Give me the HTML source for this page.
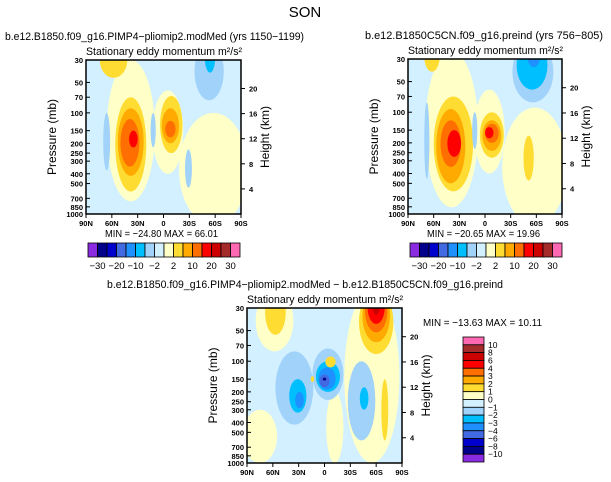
<!DOCTYPE html>
<html><head><meta charset="utf-8">
<style>
body{margin:0;background:#fff;}
svg{display:block;font-family:"Liberation Sans",sans-serif;}
</style></head>
<body>
<svg id="fig" width="611" height="482" viewBox="0 0 611 482" xmlns="http://www.w3.org/2000/svg">
<text x="305" y="17" font-size="15" text-anchor="middle">SON</text>
<g id="root"></g>
</svg>
<script>
// ---- data ----
const colors = ["#8a2be2","#00008b","#0000cd","#4169e1","#1e90ff","#00bfff","#a0d2fa","#d2f0ff","#ffffc8","#ffdc32","#ffaa00","#ff6e00","#ff0000","#cd0000","#a52a2a","#ff69b4"];
const pTicks = [30,50,70,100,150,200,250,300,400,500,700,850,1000];
const zTicks = [4,8,12,16,20];
const latTicks = [90,60,30,0,-30,-60,-90];
const latLabels = ["90N","60N","30N","0","30S","60S","90S"];
const cbLabelsAbs = ["-30","-20","-10","-2","2","10","20","30"];
const cbLabelsDiff = ["-10","-8","-6","-4","-3","-2","-1","0","1","2","3","4","6","8","10"];
// blobs: lat, dlat, pTop, pBot, level
const p1Lat  = [38,-5,-58,58,38,38,39,35,-9,-8,-8,66,-53,-54,-29,12];
const p1DLat = [28,18,40,16,18,15,11,5,13,10,6,4,17,6,4,3];
const p1Top  = [30,60,100,20,70,90,115,150,68,90,120,100,20,20,230,100];
const p1Bot  = [750,400,1300,45,600,420,340,220,250,200,175,370,75,40,550,220];
const p1Lev  = [8,8,8,9,9,10,11,12,9,10,11,6,6,5,6,6];
const p2Lat  = [39,-5,-58,62,37,40,40,36,-8,-8,-8,-5,-56,-55,-57,68,-51,12];
const p2DLat = [31,18,38,9,23,17,12,8,14,11,8,5,24,18,8,3,6,3];
const p2Top  = [25,60,90,20,70,93,120,150,100,120,130,140,20,20,20,80,170,100];
const p2Bot  = [860,400,1300,40,600,500,345,275,280,240,200,180,80,60,36,450,470,230];
const p2Lev  = [8,8,8,9,9,10,11,12,9,10,11,12,6,5,4,6,9,6];
const p3Lat  = [-55,-12,75,58,57,-60,-60,-60,-60,-60,35,31,29,-4,-4,-3,0,0,-43,-46,-7,14,-70];
const p3DLat = [32,10,20,22,12,20,16,13,10,5,22,10,5,18,14,10,6,2,16,5,6,2,4];
const p3Top  = [20,200,300,20,20,20,20,20,20,20,80,150,200,75,100,115,135,145,100,180,90,140,150];
const p3Bot  = [1000,1000,1000,80,55,85,65,52,43,35,420,320,290,240,200,190,180,155,600,300,115,160,600];
const p3Lev  = [8,8,8,8,9,9,10,11,12,13,6,5,4,6,5,4,3,1,6,5,9,9,9];
const panels = [
 {x:86,y:60,w:155,h:154,lat:p1Lat,dl:p1DLat,pt:p1Top,pb:p1Bot,lv:p1Lev,title:"b.e12.B1850.f09_g16.PIMP4\u2212pliomip2.modMed (yrs 1150\u22121199)",tx1:5,tx2:304,minmax:"MIN = \u221224.80   MAX =   66.01"},
 {x:408,y:59,w:154,h:155,lat:p2Lat,dl:p2DLat,pt:p2Top,pb:p2Bot,lv:p2Lev,title:"b.e12.B1850C5CN.f09_g16.preind (yrs 756\u2212805)",tx1:365,tx2:603,minmax:"MIN = \u221220.65   MAX =   19.96"},
 {x:247,y:308,w:155,h:155,lat:p3Lat,dl:p3DLat,pt:p3Top,pb:p3Bot,lv:p3Lev,title:"b.e12.B1850.f09_g16.PIMP4\u2212pliomip2.modMed \u2212 b.e12.B1850C5CN.f09_g16.preind",tx1:107,tx2:503,minmax:null}
];
const NS="http://www.w3.org/2000/svg";
const root=document.getElementById('root');
function mk(tag,attrs,parent){const e=document.createElementNS(NS,tag);for(const k in attrs)e.setAttribute(k,attrs[k]);(parent||root).appendChild(e);return e;}
function txt(s,attrs,parent){const e=mk('text',attrs,parent);e.textContent=s;return e;}
panels.forEach((P,i)=>{
 const xS=lat=>P.x+(90-lat)/180*P.w;
 const yS=p=>P.y+Math.log(p/30)/Math.log(1000/30)*P.h;
 const g=mk('g',{});
 
 
 const t=txt(P.title,{x:P.tx1,y:P.y-20,'font-size':11,textLength:P.tx2-P.tx1,lengthAdjust:'spacingAndGlyphs'},g);
 
 
 const st=txt("Stationary eddy momentum  m\u00b2/s\u00b2",{x:P.x,y:P.y-5,'font-size':11,textLength:P.w+1,lengthAdjust:'spacingAndGlyphs'},g);
 
 
 const cp=mk('clipPath',{id:'cp'+i},g);
 mk('rect',{x:P.x,y:P.y,width:P.w,height:P.h},cp);
 const fg=mk('g',{'clip-path':'url(#cp'+i+')'},g);
 
 
 mk('rect',{x:P.x,y:P.y,width:P.w,height:P.h,fill:colors[7]},fg);
 for(let k=0;k<P.lat.length;k++){
  const y1=yS(P.pt[k]),y2=yS(P.pb[k]);
  const el=mk('ellipse',{cx:xS(P.lat[k]),cy:(y1+y2)/2,rx:P.dl[k]/180*P.w,ry:(y2-y1)/2,fill:colors[P.lv[k]]},fg);
  
  
 }
 mk('rect',{x:P.x,y:P.y,width:P.w,height:P.h,fill:'none',stroke:'#000','stroke-width':1.5},g);
 pTicks.forEach(p=>{const y=yS(p);mk('line',{x1:P.x,x2:P.x+4,y1:y,y2:y,stroke:'#000'},g);
  const l=txt(p,{x:P.x-3,y:y+3,'font-size':7.5,'text-anchor':'end','font-weight':'bold'},g);
  
  });
 zTicks.forEach(z=>{const y=yS(1000*Math.exp(-z/7));mk('line',{x1:P.x+P.w,x2:P.x+P.w+4,y1:y,y2:y,stroke:'#000'},g);
  const l=txt(z,{x:P.x+P.w+8,y:y+3,'font-size':7.5,'font-weight':'bold'},g);
  
  });
 latTicks.forEach((la,j)=>{const x=xS(la);mk('line',{x1:x,x2:x,y1:P.y+P.h,y2:P.y+P.h+4,stroke:'#000'},g);
  const l=txt(latLabels[j],{x:x,y:P.y+P.h+12,'font-size':7.5,'text-anchor':'middle','font-weight':'bold'},g);
  
  });
 const ya=txt("Pressure (mb)",{x:0,y:0,'font-size':12,'text-anchor':'middle',transform:`translate(${P.x-30},${P.y+P.h/2}) rotate(-90)`},g);
 
 
 const yb=txt("Height (km)",{x:0,y:0,'font-size':12,'text-anchor':'middle',transform:`translate(${P.x+P.w+28},${P.y+P.h/2}) rotate(-90)`},g);
 
 
 if(P.minmax){
  const mm=txt(P.minmax,{x:P.x+19,y:P.y+P.h+23,'font-size':10.5,textLength:113,lengthAdjust:'spacingAndGlyphs'},g);
  
  
  const cb=mk('g',{},g);
  
  
  const bx=P.x+2,bw=152/16;
  colors.forEach((c,j)=>mk('rect',{x:bx+j*bw,y:243,width:bw,height:14,fill:c,stroke:'#000','stroke-width':0.8},cb));
  cbLabelsAbs.forEach((s,j)=>txt(s.replace('-','\u2212'),{x:bx+(2*j+1)*bw,y:269,'font-size':9.5,'text-anchor':'middle'},cb));
 } else {
  const mm=txt("MIN = \u221213.63   MAX =   10.11",{x:423,y:326,'font-size':10.5,textLength:119,lengthAdjust:'spacingAndGlyphs'},g);
  
  
  const cb=mk('g',{},g);
  
  
  const bh=125/16;
  for(let j=0;j<16;j++) mk('rect',{x:463,y:337+j*bh,width:21,height:bh,fill:colors[15-j],stroke:'#000','stroke-width':0.8},cb);
  const rev=cbLabelsDiff.slice().reverse();
  rev.forEach((s,j)=>txt(s.replace('-','\u2212'),{x:488,y:337+(j+1)*bh+3,'font-size':8.5},cb));
 }
});
</script>
</body></html>
